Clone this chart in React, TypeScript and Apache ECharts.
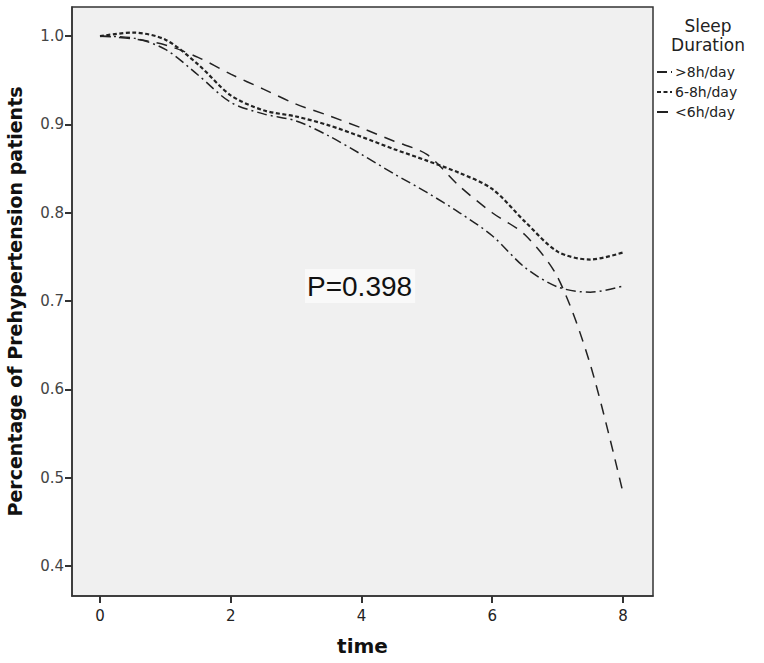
import React, { useEffect, useRef } from "react";
import * as echarts from "echarts";

const times = [0, 0.5, 1, 1.5, 2, 2.5, 3, 3.5, 4, 4.5, 5, 5.5, 6, 6.5, 7, 7.5, 8];
const over8 = [1.0, 0.998, 0.985, 0.956, 0.925, 0.912, 0.904, 0.887, 0.866, 0.844, 0.823, 0.8, 0.774, 0.738, 0.716, 0.71, 0.717];
const mid68 = [1.0, 1.004, 0.996, 0.968, 0.933, 0.916, 0.909, 0.899, 0.886, 0.872, 0.859, 0.845, 0.827, 0.79, 0.756, 0.747, 0.755];
const under6 = [1.0, 0.997, 0.99, 0.976, 0.957, 0.94, 0.923, 0.91, 0.896, 0.881, 0.866, 0.83, 0.8, 0.775, 0.727, 0.628, 0.483];
const xTicks = [0, 2, 4, 6, 8];
const yTicks = [0.4, 0.5, 0.6, 0.7, 0.8, 0.9, 1.0];
const seriesNames = [">8h/day", "6-8h/day", "<6h/day"];

const FONT = "DejaVu Sans, Liberation Sans, Arial, sans-serif";
const FONT2 = "Liberation Sans, Arial, sans-serif";

export default function App() {
  const ref = useRef<HTMLDivElement>(null);
  useEffect(() => {
    const chart = echarts.init(ref.current!, null, { renderer: "svg" });
    const pair = (vals: number[]) => times.map((t, i) => [t, vals[i]]);
    chart.setOption({
      animation: false,
      backgroundColor: "#ffffff",
      textStyle: { fontFamily: FONT },
      grid: {
        left: 72,
        top: 7,
        width: 581,
        height: 589,
        containLabel: false,
        outerBoundsMode: "none",
        show: true,
        backgroundColor: "#f0f0f0",
        borderColor: "#333333",
        borderWidth: 1.5,
      },
      legend: {
        orient: "vertical",
        left: 656,
        top: 65,
        itemWidth: 15,
        itemHeight: 12,
        itemGap: 6,
        padding: 0,
        itemStyle: { opacity: 0 },
        textStyle: { fontSize: 14, color: "#222", fontFamily: FONT, padding: [0, 0, 0, -2] },
        data: seriesNames,
      },
      xAxis: {
        type: "value",
        min: -0.428,
        max: 8.459,
        name: "time",
        nameLocation: "middle",
        nameGap: 40,
        nameTextStyle: { fontSize: 20, fontWeight: "bold", color: "#111", fontFamily: FONT },
        splitLine: { show: false },
        axisLine: { show: true, onZero: false, lineStyle: { color: "#333", width: 1.5 } },
        axisTick: { show: true, inside: false, customValues: xTicks, length: 7, lineStyle: { color: "#333", width: 2 } },
        axisLabel: { customValues: xTicks, fontSize: 15, color: "#222", margin: 12 },
      },
      yAxis: {
        type: "value",
        min: 0.366,
        max: 1.033,
        name: "Percentage of Prehypertension patients",
        nameLocation: "middle",
        nameGap: 48,
        nameTextStyle: { fontSize: 19, fontWeight: "bold", color: "#111", fontFamily: FONT },
        splitLine: { show: false },
        axisLine: { show: true, onZero: false, lineStyle: { color: "#333", width: 1.5 } },
        axisTick: { show: true, inside: false, customValues: yTicks, length: 7, lineStyle: { color: "#333", width: 2 } },
        axisLabel: {
          customValues: yTicks,
          fontSize: 15,
          color: "#444",
          margin: 8,
          formatter: (v: number) => v.toFixed(1),
        },
      },
      graphic: [
        {
          type: "text",
          x: 708,
          y: 16,
          style: {
            text: "Sleep\nDuration",
            fontSize: 17,
            lineHeight: 19,
            fill: "#222",
            fontFamily: FONT,
            align: "center",
          },
        },
        {
          type: "text",
          left: 305,
          top: 269,
          style: {
            text: "P=0.398",
            fontSize: 28,
            fill: "#111",
            fontFamily: FONT2,
            backgroundColor: "#f9f9f9",
            padding: [3, 3, 3, 2],
          },
        },
      ],
      series: [
        {
          name: seriesNames[0],
          type: "line",
          data: pair(over8),
          smooth: 0.3,
          symbol: "none",
          itemStyle: { color: "#222" },
          lineStyle: { color: "#222", width: 1.5, type: [10, 4, 2, 4] },
        },
        {
          name: seriesNames[1],
          type: "line",
          data: pair(mid68),
          smooth: 0.3,
          symbol: "none",
          itemStyle: { color: "#222" },
          lineStyle: { color: "#222", width: 2.2, type: [4, 2.5] },
        },
        {
          name: seriesNames[2],
          type: "line",
          data: pair(under6),
          smooth: 0.3,
          symbol: "none",
          itemStyle: { color: "#222" },
          lineStyle: { color: "#222", width: 1.5, type: [11, 8] },
        },
      ],
    });
    return () => chart.dispose();
  }, []);
  return (
    <div
      ref={ref}
      style={{ position: "fixed", left: 0, top: 0, width: 764, height: 663 }}
    />
  );
}
